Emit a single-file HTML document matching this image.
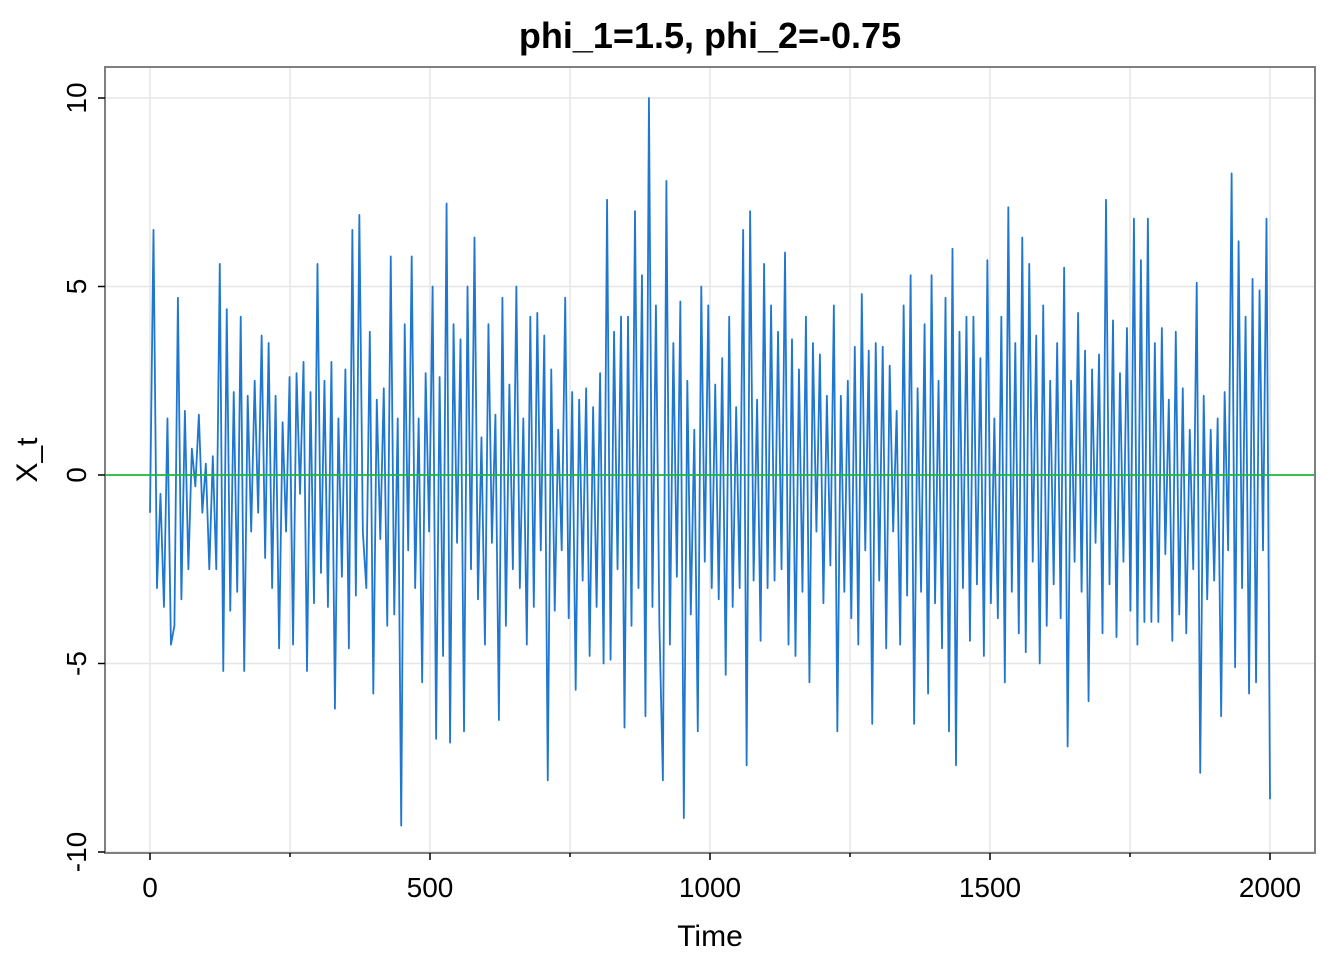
<!DOCTYPE html>
<html><head><meta charset="utf-8"><style>
html,body{margin:0;padding:0;background:#fff;}
svg{display:block;font-family:"Liberation Sans",sans-serif;}
</style></head><body>
<svg id="chart" width="1344" height="960">
<text x="710" y="48" text-anchor="middle" font-size="36" font-weight="bold">phi_1=1.5, phi_2=-0.75</text>
<text x="710" y="946" text-anchor="middle" font-size="30">Time</text>
<text transform="translate(37,460) rotate(-90)" text-anchor="middle" font-size="30">X_t</text>
<g id="grid"></g>
<g id="series"></g>
<g id="axes"></g>
</svg>
<script>
const xTicks = [0, 500, 1000, 1500, 2000];
const xMinor = [250, 750, 1250, 1750];
const yTicks = [-10, -5, 0, 5, 10];
const yLabels = ["-10", "-5", "0", "5", "10"];
const tStart = 0, tEnd = 2000;
const values = [
-1,6.5,-3,-0.5,-3.5,1.5,-4.5,-4,4.7,-3.3,1.7,
-2.5,0.7,-0.3,1.6,-1,0.3,-2.5,0.5,
-2.5,5.6,-5.2,4.4,-3.6,2.2,-3.1,4.2,
-5.2,2.1,-1.5,2.5,-1,3.7,-2.2,3.5,
-3,2.1,-4.6,1.4,-1.5,2.6,-4.5,2.7,
-0.5,3,-5.2,2.2,-3.4,5.6,-2.6,2.5,
-3.5,3,-6.2,1.5,-2.7,2.8,-4.6,6.5,
-3.2,6.9,-1.5,-3,3.8,-5.8,2,-1.7,
2.3,-4,5.8,-3.7,1.5,-9.3,4,-2,5.8,
-3,1.5,-5.5,2.7,-1.5,5,-7,
2.6,-4.8,7.2,-7.1,4,-1.8,3.6,-6.8,
5,-2.5,6.3,-3.3,1,-4.5,4,-1.8,
1.6,-6.5,4.7,-4,2.4,-2.5,5,-3,
1.5,-4.5,4.2,-3.5,4.3,-2,3.7,-8.1,
2.8,-3.6,1.2,-2,4.7,-3.8,2.2,-5.7,
2,-2.8,2.3,-4.8,1.8,-3.5,2.7,-5,
7.3,-4.9,3.8,-2.5,4.2,-6.7,4.2,-4,
7,-3,5.3,-6.4,10,-3.5,4.5,-4,
-8.1,7.8,-4.5,3.5,-2.7,4.6,-9.1,2.5,
-3.7,1.2,-6.8,5,-2.3,4.5,-3,2.4,
-3.3,3.1,-5.3,4.2,-3.5,1.8,-3,6.5,
-7.7,7,-2.8,2,-4.4,5.6,-3,4.5,
-2.8,3.8,-2.5,5.9,-4.5,3.6,-4.8,2.8,
-3.1,4.2,-5.5,3.5,-1.5,3.2,-3.4,2.1,
-2.4,4.5,-6.8,2.1,-3.1,2.5,-3.8,3.4,
-4.5,4.8,-2,3.3,-6.6,3.5,-2.8,3.4,
-4.6,2.9,-1.5,1.7,-4.5,4.5,-3.2,5.3,
-6.6,2.3,-3.1,4,-5.8,5.3,-3.4,2.5,
-4.6,4.7,-6.8,6,-7.7,3.8,-3,4.2,
-4.4,4.2,-2.9,3.1,-4.8,5.7,-3.4,1.5,
-3.8,4.2,-5.5,7.1,-3.1,3.5,-4.2,6.3,
-4.7,5.6,-2.3,3.7,-5,4.5,-4,2.5,
-2.9,3.5,-3.8,5.5,-7.2,2.5,-2.3,4.3,
-3.1,3.3,-6,2.8,-1.8,3.2,-4.2,7.3,
-2.9,4.1,-4.3,2.7,-2.3,3.9,-3.6,6.8,
-4.5,5.7,-3.9,6.8,-3.9,3.5,-3.9,3.9,
-2.1,2,-4.4,3.8,-3.7,2.3,-4.2,1.2,
-2.5,5.1,-7.9,2.1,-3.3,1.2,-2.8,1.5,
-6.4,2.2,-2,8,-5.1,6.2,-3,4.2,
-5.8,5.2,-5.5,4.9,-2,6.8,-8.6
];
const NS="http://www.w3.org/2000/svg";
const L=105,R=1315,T=67,B=853;
function xs(t){return 150+(t-0)*(1270-150)/2000;}
function ys(v){return 475-v*(475-98)/10;}
function mk(tag,attrs,parent){const e=document.createElementNS(NS,tag);for(const k in attrs)e.setAttribute(k,attrs[k]);parent.appendChild(e);return e;}
const grid=document.getElementById('grid'),series=document.getElementById('series'),axes=document.getElementById('axes');
mk('rect',{x:L,y:T,width:R-L,height:B-T,fill:'#fff'},grid);
xTicks.concat(xMinor).forEach(t=>{
  const g=mk('line',{x1:xs(t),x2:xs(t),y1:T,y2:B,stroke:'#e6e6e6','stroke-width':1.5},grid);
  
  
});
yTicks.forEach(v=>{
  const g=mk('line',{x1:L,x2:R,y1:ys(v),y2:ys(v),stroke:'#e6e6e6','stroke-width':1.5},grid);
  
  
});
const step=(tEnd-tStart)/(values.length-1);
const pts=values.map((v,i)=>xs(tStart+i*step).toFixed(2)+','+ys(v).toFixed(2)).join(' ');
const pl=mk('polyline',{points:pts,fill:'none',stroke:'#1f77d0','stroke-width':1.8,'stroke-linejoin':'round'},series);


const zl=mk('line',{x1:L,x2:R,y1:ys(0),y2:ys(0),stroke:'#1db83a','stroke-width':1.8},series);


const fr=mk('rect',{x:L,y:T,width:R-L,height:B-T,fill:'none',stroke:'#7f7f7f','stroke-width':2},axes);


xTicks.forEach(t=>{
  mk('line',{x1:xs(t),x2:xs(t),y1:B,y2:B+7,stroke:'#000','stroke-width':1.5},axes);
  const tx=mk('text',{x:xs(t),y:B+44,'text-anchor':'middle','font-size':28},axes);
  tx.textContent=String(t);
  
  
});
xMinor.forEach(t=>{mk('line',{x1:xs(t),x2:xs(t),y1:B,y2:B+4,stroke:'#000','stroke-width':1.5},axes);});
yTicks.forEach((v,i)=>{
  mk('line',{x1:L-7,x2:L,y1:ys(v),y2:ys(v),stroke:'#000','stroke-width':1.5},axes);
  const tx=mk('text',{transform:'translate(86,'+ys(v)+') rotate(-90)','text-anchor':'middle','font-size':28},axes);
  tx.textContent=yLabels[i];
  
  
});
</script>
</body></html>
